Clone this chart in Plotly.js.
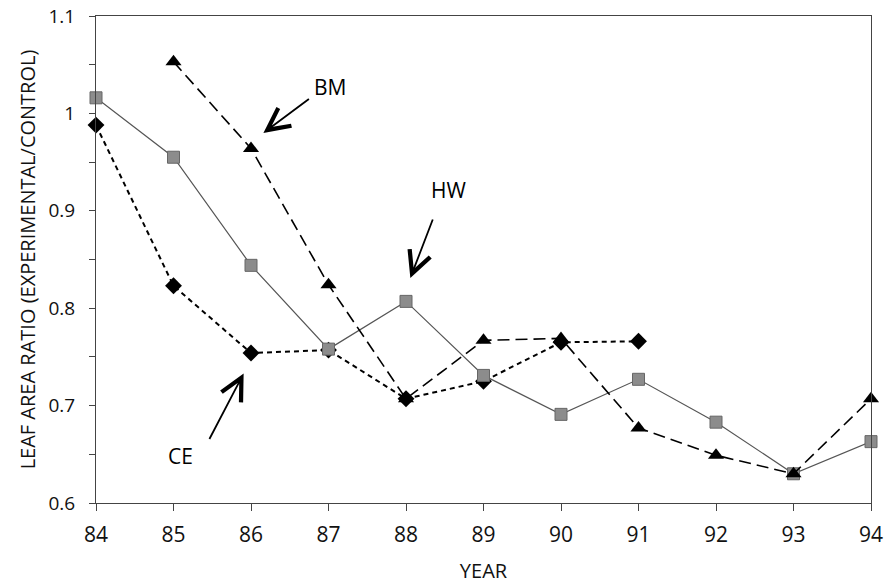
<!DOCTYPE html>
<html>
<head>
<meta charset="utf-8">
<script src="https://cdn.plot.ly/plotly-3.0.1.min.js"></script>
<style>html,body{margin:0;padding:0;background:#fff;}#chart{width:884px;height:584px;}</style>
</head>
<body>
<div id="chart"></div>
<script>
// Data
const hwYears = [84, 85, 86, 87, 88, 89, 90, 91, 92, 93, 94];
const hwValues = [1.016, 0.955, 0.844, 0.758, 0.807, 0.731, 0.691, 0.727, 0.683, 0.630, 0.663];

const bmYears = [85, 86, 87, 88, 89, 90, 91, 92, 93, 94];
const bmValues = [1.053, 0.964, 0.824, 0.707, 0.767, 0.769, 0.677, 0.649, 0.630, 0.707];

const ceYears = [84, 85, 86, 87, 88, 89, 90, 91];
const ceValues = [0.988, 0.823, 0.754, 0.757, 0.707, 0.725, 0.765, 0.766];

const xTicks = [84, 85, 86, 87, 88, 89, 90, 91, 92, 93, 94];
const yTicks = [0.6, 0.7, 0.8, 0.9, 1, 1.1];
const yTickText = ['0.6', '0.7', '0.8', '0.9', '1', '1.1'];

const FONT = 'Open Sans, Lato, sans-serif';

const traces = [
  {
    x: ceYears, y: ceValues, type: 'scatter', mode: 'lines+markers', name: 'CE',
    cliponaxis: false,
    line: {color: '#000', width: 2, dash: '5px,4px'},
    marker: {symbol: 'diamond', size: 13, color: '#000'}
  },
  {
    x: hwYears, y: hwValues, type: 'scatter', mode: 'lines+markers', name: 'HW',
    cliponaxis: false,
    line: {color: '#555', width: 1.2},
    marker: {symbol: 'square', size: 12, color: '#8c8c8c', line: {color: '#666', width: 1}}
  },
  {
    x: bmYears, y: bmValues, type: 'scatter', mode: 'lines+markers', name: 'BM',
    cliponaxis: false,
    line: {color: '#000', width: 1.6, dash: '12px,6px'},
    marker: {symbol: 'triangle-up', size: 14, color: '#000'}
  }
];

const axisCommon = {
  showgrid: false, zeroline: false,
  linecolor: '#444', linewidth: 1,
  tickcolor: '#444', tickwidth: 1
};

const layout = {
  width: 884, height: 584,
  margin: {l: 96, r: 13, t: 16, b: 81},
  paper_bgcolor: '#fff', plot_bgcolor: '#fff',
  showlegend: false,
  font: {family: FONT, color: '#111'},
  xaxis: Object.assign({}, axisCommon, {
    range: [84, 94], tickvals: xTicks, ticktext: xTicks.map(String),
    tickfont: {family: FONT, size: 21, color: '#111'},
    ticks: 'outside', ticklen: 7, mirror: true, ticklabelstandoff: 6,
    title: {text: 'YEAR', font: {family: FONT, size: 20, color: '#111'}, standoff: 20}
  }),
  yaxis: Object.assign({}, axisCommon, {
    range: [0.6, 1.1], tickvals: yTicks, ticktext: yTickText,
    tickfont: {family: FONT, size: 19, color: '#111'},
    ticks: 'outside', ticklen: 6, mirror: true, ticklabelstandoff: 10,
    minor: {ticks: 'outside', ticklen: 6, dtick: 0.05, tickcolor: '#444'},
    title: {text: 'LEAF AREA RATIO (EXPERIMENTAL/CONTROL)', font: {family: FONT, size: 20, color: '#111'}, standoff: 7}
  }),
  xaxis2: {
    overlaying: 'x', anchor: 'y', side: 'bottom', range: [84, 94],
    tickvals: xTicks, showticklabels: false, ticks: 'inside', ticklen: 6,
    tickcolor: '#444', showgrid: false, zeroline: false, showline: false
  },
  yaxis2: {
    overlaying: 'y', anchor: 'x', side: 'left', range: [0.6, 1.1],
    tickvals: [0.6, 0.65, 0.7, 0.75, 0.8, 0.85, 0.9, 0.95, 1, 1.05, 1.1],
    showticklabels: false, ticks: 'inside', ticklen: 4,
    tickcolor: '#444', showgrid: false, zeroline: false, showline: false
  },
  annotations: [
    // arrows
    {x: 86.16, y: 0.980, xref: 'x', yref: 'y', text: '', showarrow: true, ax: 47, ay: -35,
     arrowhead: 5, arrowsize: 2.4, arrowwidth: 1.8, arrowcolor: '#000'},
    {x: 88.056, y: 0.831, xref: 'x', yref: 'y', text: '', showarrow: true, ax: 23, ay: -60,
     arrowhead: 5, arrowsize: 2.4, arrowwidth: 1.8, arrowcolor: '#000'},
    {x: 85.905, y: 0.733, xref: 'x', yref: 'y', text: '', showarrow: true, ax: -35, ay: 67,
     arrowhead: 5, arrowsize: 2.4, arrowwidth: 1.8, arrowcolor: '#000'},
    // labels
    {x: 87.02, y: 1.027, xref: 'x', yref: 'y', text: 'BM', showarrow: false,
     font: {family: FONT, size: 21, color: '#000'}},
    {x: 88.55, y: 0.9216, xref: 'x', yref: 'y', text: 'HW', showarrow: false,
     font: {family: FONT, size: 21, color: '#000'}},
    {x: 85.088, y: 0.6486, xref: 'x', yref: 'y', text: 'CE', showarrow: false,
     font: {family: FONT, size: 21, color: '#000'}}
  ]
};

Plotly.newPlot('chart', traces, layout, {displayModeBar: false, staticPlot: true});
</script>
</body>
</html>
